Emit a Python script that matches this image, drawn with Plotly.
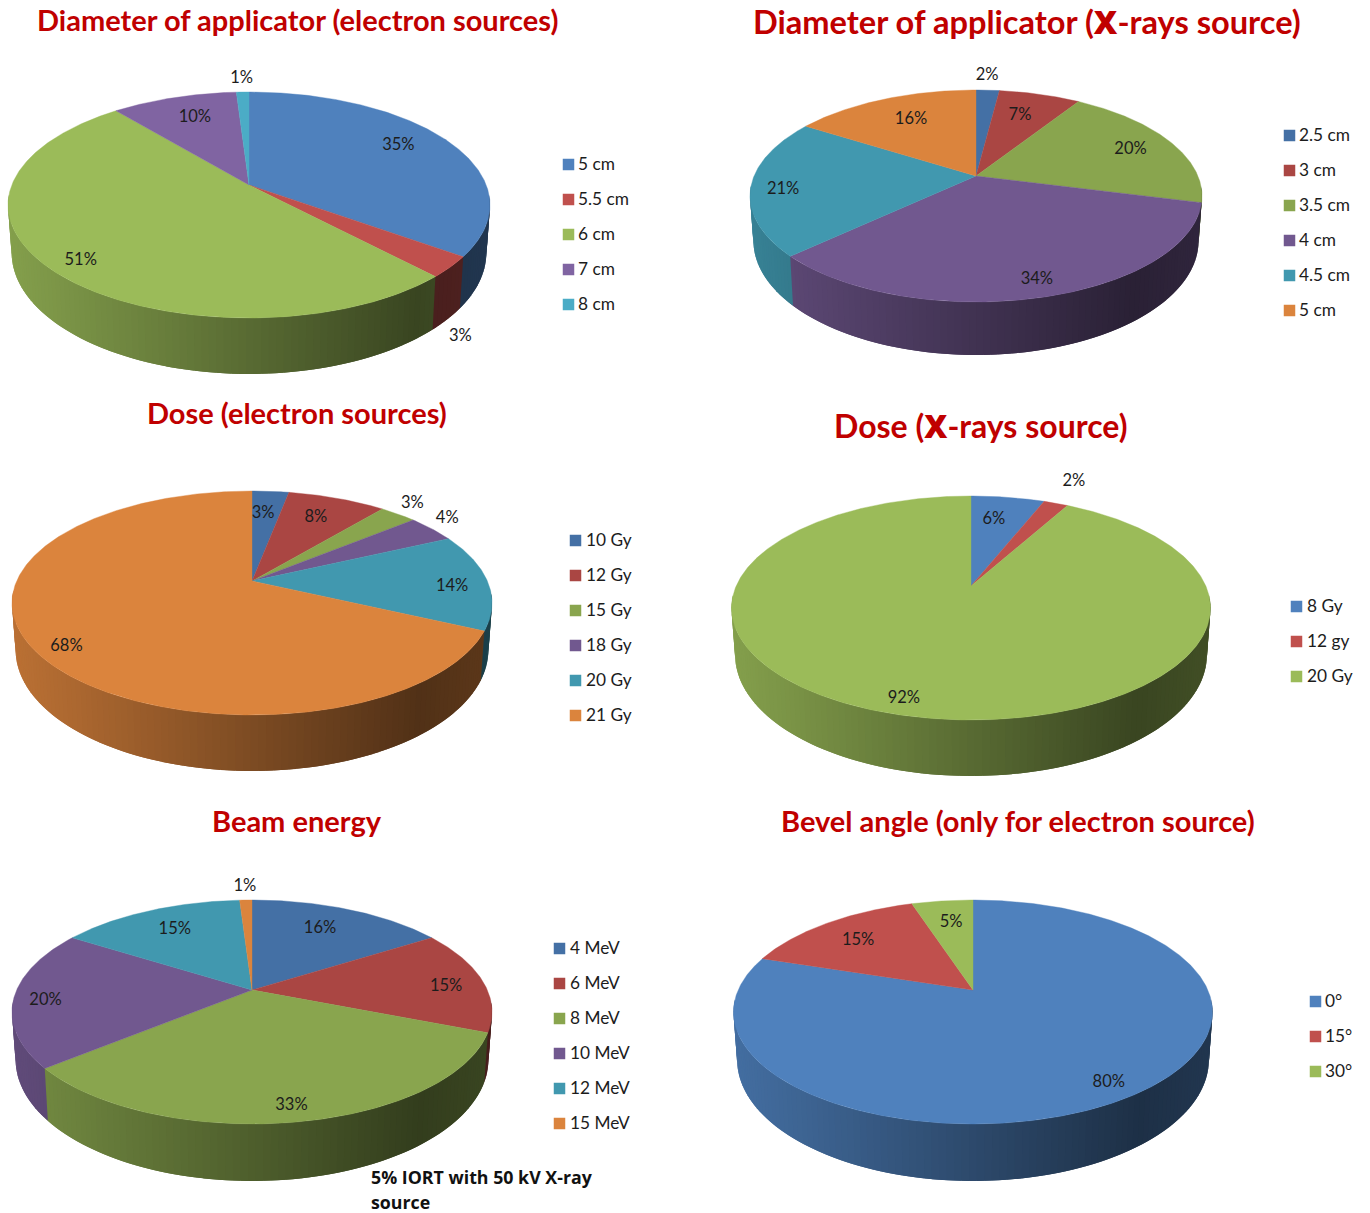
import numpy as np
import plotly.graph_objects as go

# ---------- data ----------
X_MARK = "<span style=\"font-family:'Open Sans';font-weight:800\">X</span>"
titles = ["Diameter of applicator (electron sources)", f"Diameter of applicator ({X_MARK}-rays source)",
          "Dose (electron sources)", f"Dose ({X_MARK}-rays source)",
          "Beam energy", "Bevel angle (only for electron source)"]
cats_a = ["5 cm", "5.5 cm", "6 cm", "7 cm", "8 cm"]
vals_a = [35, 3, 51, 10, 1]
cats_b = ["2.5 cm", "3 cm", "3.5 cm", "4 cm", "4.5 cm", "5 cm"]
vals_b = [2, 7, 20, 34, 21, 16]
cats_c = ["10 Gy", "12 Gy", "15 Gy", "18 Gy", "20 Gy", "21 Gy"]
vals_c = [3, 8, 3, 4, 14, 68]
cats_d = ["8 Gy", "12 gy", "20 Gy"]
vals_d = [6, 2, 92]
cats_e = ["4 MeV", "6 MeV", "8 MeV", "10 MeV", "12 MeV", "15 MeV"]
vals_e = [16, 15, 33, 20, 15, 1]
cats_f = ["0°", "15°", "30°"]
vals_f = [80, 15, 5]
note = ["5% IORT with 50 kV X-ray", "source"]

# ---------- styles and layout ----------
BRIGHT = ["#4F81BD", "#C0504D", "#9BBB59", "#8064A2", "#4BACC6", "#F79646"]
MUTED = ["#4470A5", "#AA4643", "#89A54E", "#71588F", "#4198AF", "#DB843D"]
INK = "#1c1c1c"
RED = "#C00000"
FONT = "Lato"

# pie geometry in page pixels: apex x/y, top, bottom, left, right, base of the wall
charts = [
    dict(c=cats_a, v=vals_a, pal=BRIGHT, geo=(249, 185, 92, 318, 8, 490, 374),
         key=(568.5, 164, 578), title=(297, 19, 29),
         r=[.784, 1.316, .875, .754, 1.195], turn=[-3.7, 15.6, -2.2, 1.7, 0]),
    dict(c=cats_b, v=vals_b, pal=MUTED, geo=(976, 176, 90, 302, 750, 1202, 355),
         key=(1289.5, 135, 1299), title=(1027, 21, 32.6),
         r=[1.23, .72, .79, .87, .858, .715], turn=[-.7, -1.7, 0, -1, -2.3, 1.5]),
    dict(c=cats_c, v=vals_c, pal=MUTED, geo=(252, 581, 491, 715, 12, 492, 771),
         key=(575.5, 540, 586), title=(297, 412, 29),
         r=[.735, .751, 1.17, 1.155, .845, .884], turn=[-1.2, -1, -2.1, -3.2, 2.5, -4.6]),
    dict(c=cats_d, v=vals_d, pal=BRIGHT, geo=(971, 586, 496, 720, 731, 1210, 776),
         key=(1296.5, 606, 1307), title=(980, 425, 32),
         r=[.729, 1.335, .889], turn=[-2, -1.2, 1.1]),
    dict(c=cats_e, v=vals_e, pal=MUTED, geo=(252, 990, 900, 1124, 12, 492, 1181),
         key=(559.5, 948, 570), title=(297, 820.5, 29),
         r=[.737, .834, .887, .867, .747, 1.206], turn=[-2.5, 2.2, 0, -1.9, .9, 0]),
    dict(c=cats_f, v=vals_f, pal=BRIGHT, geo=(973, 990, 900, 1124, 733, 1212, 1181),
         key=(1315.5, 1001, 1325), title=(1018, 820.5, 29),
         r=[.878, .751, .741], turn=[1.6, -.9, .7]),
]
KEY_STEP = 35
TEXT_DY = 2
NOTE_POS = (371, 1180, 24.5)
STRIP_DEG = 1.5
WALL_FROM, WALL_TO = 95, 265
SHADE_T = [0, .1, .5, .85, 1]
SHADE_F = [.85, .8, .57, .37, .42]


def shade(hex_col, f):
    r, g, b = (int(hex_col[i:i + 2], 16) for i in (1, 3, 5))
    return f"rgb({r * f:.0f},{g * f:.0f},{b * f:.0f})"


fig = go.Figure()


def add_pie(ch):
    ax, ay, top, bot, left, right, base = ch["geo"]
    up, down = ay - top, bot - ay
    p = (down - up) / (bot - top)
    B = up * (1 + p)
    A = (right - left) / 2 * np.sqrt(1 - p * p)
    D = (base - bot) * (1 - p)

    def proj(deg, r=1.0):
        t = np.radians(deg)
        u, v = r * np.sin(t), r * np.cos(t)
        w = 1 + p * v
        return ax + A * u / w, ay - B * v / w, w

    vals = np.array(ch["v"], float)
    edges = np.concatenate([[0], np.cumsum(vals)]) / vals.sum() * 360

    # side wall, cut in narrow overlapping strips so that it can carry the shading
    for i, col in enumerate(ch["pal"][:len(vals)]):
        a0, a1 = max(edges[i], WALL_FROM), min(edges[i + 1], WALL_TO)
        if a1 <= a0:
            continue
        n = max(1, int((a1 - a0) / STRIP_DEG))
        cuts = np.linspace(a0, a1, n + 1)
        for c0, c1 in zip(cuts[:-1], cuts[1:]):
            arc = np.linspace(c0, min(c1 + STRIP_DEG, WALL_TO), 4)
            x, y, w = proj(arc)
            xb = ax + (x - ax) * 0.985
            yb = y + D / w
            xm = proj((c0 + c1) / 2)[0]
            tx = (xm - left) / (right - left)
            colr = shade(col, float(np.interp(tx, SHADE_T, SHADE_F)))
            fig.add_trace(go.Scatter(
                x=np.concatenate([x, xb[::-1]]), y=np.concatenate([y, yb[::-1]]),
                mode="lines", fill="toself", fillcolor=colr,
                line=dict(width=0), hoverinfo="skip", showlegend=False))

    # top face
    for i, (name, col) in enumerate(zip(ch["c"], ch["pal"])):
        arc = np.linspace(edges[i], edges[i + 1], max(3, int(edges[i + 1] - edges[i]) * 2))
        x, y, _ = proj(arc)
        fig.add_trace(go.Scatter(
            x=np.concatenate([[ax], x, [ax]]), y=np.concatenate([[ay], y, [ay]]),
            mode="lines", fill="toself", fillcolor=col, line=dict(color=col, width=0.4),
            name=name, text=f"{name}: {vals[i]:.0f}%", hoverinfo="text", showlegend=False))

    # percentage labels
    mids = (edges[:-1] + edges[1:]) / 2 + np.array(ch["turn"])
    lx, ly, _ = proj(mids, np.array(ch["r"]))
    fig.add_trace(go.Scatter(
        x=lx, y=ly + TEXT_DY, mode="text", text=[f"{v:.0f}%" for v in vals],
        textfont=dict(family=FONT, size=16.5, color=INK), hoverinfo="skip", showlegend=False))

    # key: swatch and text
    kx, ky, tx = ch["key"]
    ky_all = np.array([ky + KEY_STEP * i for i in range(len(vals))])
    fig.add_trace(go.Scatter(
        x=[kx] * len(vals), y=ky_all + 0.5, mode="markers",
        marker=dict(symbol="square", size=11.5, color=ch["pal"][:len(vals)]),
        hoverinfo="skip", showlegend=False))
    fig.add_trace(go.Scatter(
        x=[tx] * len(vals), y=ky_all + TEXT_DY, mode="text", text=ch["c"], textposition="middle right",
        textfont=dict(family=FONT, size=17.3, color=INK), hoverinfo="skip", showlegend=False))


for ch in charts:
    add_pie(ch)

annotations = []
for ch, t in zip(charts, titles):
    tx, ty, ts = ch["title"]
    annotations.append(dict(x=tx, y=ty, xref="x", yref="y", text=t, showarrow=False,
                            xanchor="center", yanchor="middle",
                            font=dict(family=FONT, size=ts, color=RED, weight="bold")))

fig.add_trace(go.Scatter(
    x=[NOTE_POS[0]] * len(note), y=[NOTE_POS[1] + NOTE_POS[2] * i for i in range(len(note))],
    mode="text", text=note, textposition="middle right", cliponaxis=False,
    textfont=dict(family="Open Sans", size=17.8, color="#111", weight="bold"),
    hoverinfo="skip", showlegend=False))

fig.update_layout(
    width=1370, height=1213, margin=dict(l=0, r=0, t=0, b=0),
    paper_bgcolor="white", plot_bgcolor="white", showlegend=False,
    xaxis=dict(range=[0, 1370], visible=False, fixedrange=True),
    yaxis=dict(range=[1213, 0], visible=False, fixedrange=True),
    annotations=annotations,
)
fig.write_html("out.html", config={"displayModeBar": False},
               post_script="document.body.style.margin='0';")
